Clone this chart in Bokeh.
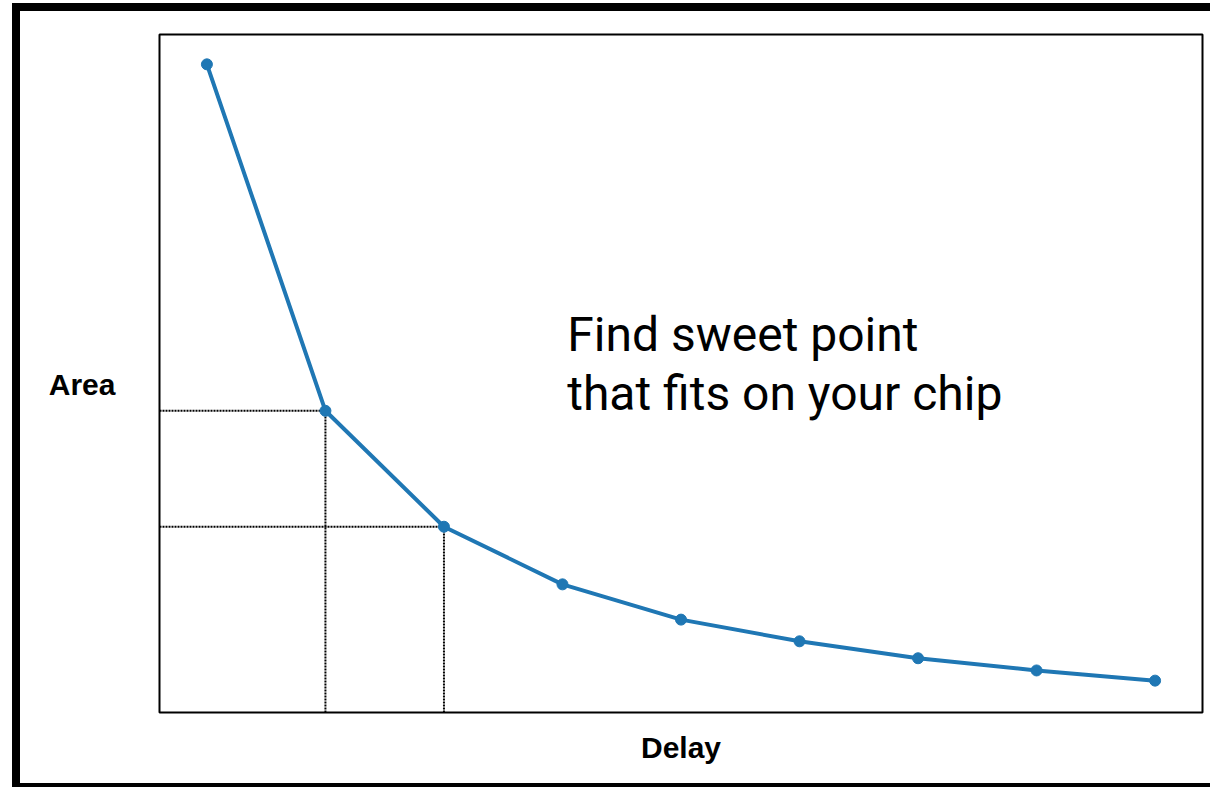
from bokeh.plotting import figure
from bokeh.models import Label, Range1d, FixedTicker
from bokeh.embed import file_html
from bokeh.resources import INLINE

# Data (arbitrary units)
delay = [1, 2, 3, 4, 5, 6, 7, 8, 9]
area = [95.6, 44.5, 27.4, 18.9, 13.7, 10.5, 8.0, 6.2, 4.7]
sweet_idx = [1, 2]  # candidate "sweet points" marked with dotted guides

annotation_lines = ["Find sweet point", "that fits on your chip"]
x_label = "Delay"
y_label = "Area"

X_START, X_END = 0.6, 9.4
Y_START, Y_END = 0.0, 100.0
Y_LABEL_AT = 48.4  # vertical position of the horizontal "Area" label

BLUE = "#1f77b4"

p = figure(
    width=1210, height=787,
    output_backend="svg", toolbar_location=None,
    x_range=Range1d(X_START, X_END), y_range=Range1d(Y_START, Y_END),
    min_border_left=159, min_border_right=8,
    min_border_top=34, min_border_bottom=75,
)
p.grid.visible = False
p.outline_line_color = "black"
p.outline_line_width = 2
p.background_fill_color = "white"
p.border_fill_alpha = 0.0

for ax in (p.xaxis[0], p.yaxis[0]):
    ax.axis_line_color = None
    ax.major_tick_line_color = None
    ax.minor_tick_line_color = None
    ax.major_tick_in = 0
    ax.major_tick_out = 0

# x axis: no ticks, bold title below
p.xaxis.ticker = FixedTicker(ticks=[])
p.xaxis.major_label_standoff = 0
p.xaxis.axis_label = x_label
p.xaxis.axis_label_standoff = 18
p.xaxis.axis_label_text_font = "Liberation Sans"
p.xaxis.axis_label_text_font_style = "bold"
p.xaxis.axis_label_text_font_size = "30px"
p.xaxis.axis_label_text_color = "black"

# y axis: horizontal bold "Area" label placed as the only tick label
p.yaxis.ticker = FixedTicker(ticks=[Y_LABEL_AT])
p.yaxis.major_label_overrides = {Y_LABEL_AT: y_label}
p.yaxis.major_label_standoff = 44
p.yaxis.major_label_text_font = "Liberation Sans"
p.yaxis.major_label_text_font_style = "bold"
p.yaxis.major_label_text_font_size = "30px"
p.yaxis.major_label_text_color = "black"

# dotted guide lines
hx0 = [X_START for i in sweet_idx]
hx1 = [delay[i] for i in sweet_idx]
hy = [area[i] for i in sweet_idx]
vy0 = [Y_START for i in sweet_idx]
p.segment(x0=hx0, y0=hy, x1=hx1, y1=hy, line_color="black", line_width=2, line_dash="2 1")
p.segment(x0=hx1, y0=vy0, x1=hx1, y1=hy, line_color="black", line_width=2, line_dash="2 1")

# curve
p.line(delay, area, line_color=BLUE, line_width=4)
p.scatter(delay, area, size=11, fill_color=BLUE, line_color=BLUE)

# annotation text
p.add_layout(Label(x=4.04, y=55.8, text=annotation_lines[0], text_font="Roboto",
                   text_font_size="48px", text_color="black", text_baseline="alphabetic"))
p.add_layout(Label(x=4.04, y=47.1, text=annotation_lines[1], text_font="Roboto",
                   text_font_size="48px", text_color="black", text_baseline="alphabetic"))

# outer black frame of the picture (left, top and bottom bands visible)
p.styles = {
    "box-shadow": ("inset 12px 0 0 0 white, inset 0 3px 0 0 white, "
                   "inset 20px 0 0 0 black, inset 0 11px 0 0 black, "
                   "inset 0 -4px 0 0 black"),
}

open("out.html", "w").write(file_html(p, INLINE))
